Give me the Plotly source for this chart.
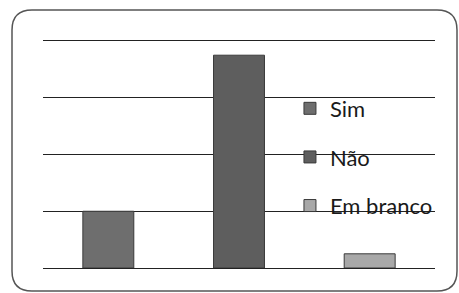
import plotly.graph_objects as go

categories = ["Sim", "Não", "Em branco"]
values = [4, 15, 1]
colors = ["#6e6e6e", "#5e5e5e", "#a8a8a8"]

W, H = 459, 293
L, R, T, B = 43, 24, 41, 25
pw, ph = W - L - R, H - T - B

def px(x):
    return (x - L) / pw

def py(y):
    return (H - B - y) / ph

fig = go.Figure()
for c, v, col in zip(categories, values, colors):
    fig.add_trace(go.Bar(
        x=[c], y=[v], name=c, width=0.39, legendgroup=c,
        marker=dict(color=col, line=dict(color="#3a3a3a", width=1)),
    ))

# rounded frame
x0, x1, y0, y1, r = 12, 457, 10, 291, 20
path = (
    f"M {px(x0 + r)},{py(y0)} L {px(x1 - r)},{py(y0)} "
    f"Q {px(x1)},{py(y0)} {px(x1)},{py(y0 + r)} "
    f"L {px(x1)},{py(y1 - r)} Q {px(x1)},{py(y1)} {px(x1 - r)},{py(y1)} "
    f"L {px(x0 + r)},{py(y1)} Q {px(x0)},{py(y1)} {px(x0)},{py(y1 - r)} "
    f"L {px(x0)},{py(y0 + r)} Q {px(x0)},{py(y0)} {px(x0 + r)},{py(y0)} Z"
)
fig.add_shape(type="path", path=path, xref="paper", yref="paper",
              line=dict(color="#555555", width=1.5), layer="below")

fig.update_layout(
    width=W, height=H,
    margin=dict(l=L, r=R, t=T, b=B),
    paper_bgcolor="white", plot_bgcolor="white",
    barmode="overlay",
    showlegend=True,
    legend=dict(x=0.63, y=0.795, xanchor="left", yanchor="top",
                bgcolor="rgba(0,0,0,0)", traceorder="grouped",
                tracegroupgap=17,
                font=dict(family="Lato", size=22, color="#1a1a1a")),
    xaxis=dict(showticklabels=False, showgrid=False, zeroline=False,
               showline=True, linecolor="#222222", linewidth=1,
               mirror=True, ticks=""),
    yaxis=dict(range=[0, 16], dtick=4, showticklabels=False,
               showgrid=True, gridcolor="#222222", gridwidth=1,
               zeroline=True, zerolinecolor="#222222", zerolinewidth=1,
               showline=False, ticks=""),
)

fig.write_html("out.html", config={"displayModeBar": False},
               post_script="document.body.style.margin='0';")
